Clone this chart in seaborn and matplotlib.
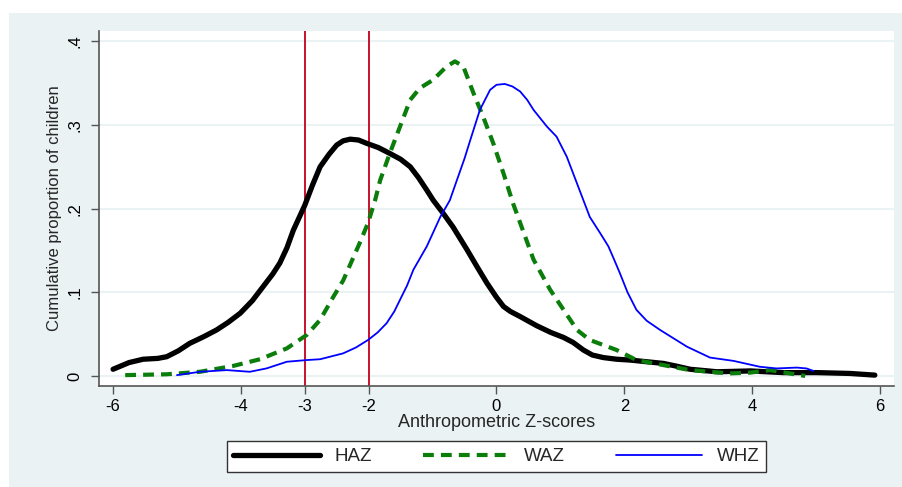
import numpy as np
import pandas as pd
import seaborn as sns
import matplotlib.pyplot as plt
from matplotlib.patches import Rectangle

# kernel density curves
haz_x = [-6.0, -5.75, -5.53, -5.30, -5.16, -4.98, -4.80, -4.58, -4.38, -4.20, -4.01,
         -3.82, -3.65, -3.50, -3.39, -3.28, -3.18, -3.0, -2.88, -2.76, -2.62, -2.50,
         -2.40, -2.29, -2.16, -2.03, -1.85, -1.67, -1.50, -1.35, -1.22, -1.09, -0.99,
         -0.84, -0.68, -0.47, -0.30, -0.15, 0.0, 0.11, 0.22, 0.37, 0.63, 0.85, 1.05,
         1.20, 1.36, 1.50, 1.67, 1.88, 2.09, 2.35, 2.61, 2.80, 3.03, 3.45, 3.97, 4.49,
         5.01, 5.53, 5.92]
haz_y = [0.008, 0.016, 0.020, 0.021, 0.023, 0.030, 0.039, 0.047, 0.055, 0.064, 0.075,
         0.090, 0.107, 0.122, 0.135, 0.153, 0.174, 0.204, 0.228, 0.250, 0.265, 0.276,
         0.281, 0.283, 0.282, 0.278, 0.273, 0.266, 0.259, 0.250, 0.237, 0.222, 0.210,
         0.195, 0.178, 0.152, 0.130, 0.111, 0.094, 0.083, 0.077, 0.071, 0.060, 0.052,
         0.046, 0.040, 0.031, 0.025, 0.022, 0.020, 0.019, 0.017, 0.015, 0.012, 0.008,
         0.005, 0.006, 0.004, 0.004, 0.003, 0.001]

waz_x = [-5.81, -5.16, -4.64, -4.12, -3.70, -3.28, -2.97, -2.76, -2.55, -2.40, -2.29,
         -2.14, -2.01, -1.90, -1.82, -1.67, -1.51, -1.35, -1.20, -0.99, -0.78, -0.65,
         -0.52, -0.36, -0.21, -0.05, 0.11, 0.26, 0.37, 0.58, 0.84, 1.05, 1.26, 1.46,
         1.67, 1.88, 2.19, 2.61, 3.03, 3.65, 3.97, 4.28, 4.59, 4.83]
waz_y = [0.001, 0.002, 0.005, 0.012, 0.020, 0.033, 0.049, 0.067, 0.095, 0.114, 0.133,
         0.159, 0.183, 0.210, 0.234, 0.266, 0.298, 0.330, 0.344, 0.354, 0.370, 0.376,
         0.370, 0.338, 0.310, 0.278, 0.242, 0.206, 0.183, 0.139, 0.103, 0.079, 0.055,
         0.043, 0.037, 0.031, 0.019, 0.013, 0.007, 0.003, 0.004, 0.007, 0.003, 0.000]

whz_x = [-5.0, -4.64, -4.22, -3.86, -3.60, -3.28, -2.97, -2.76, -2.40, -2.20, -2.01,
         -1.86, -1.72, -1.60, -1.51, -1.40, -1.30, -1.09, -0.88, -0.73, -0.62, -0.50,
         -0.41, -0.26, -0.10, 0.0, 0.13, 0.25, 0.37, 0.48, 0.58, 0.79, 0.94, 1.10, 1.26,
         1.46, 1.62, 1.75, 1.83, 1.93, 2.05, 2.19, 2.35, 2.56, 2.98, 3.34, 3.71, 4.12,
         4.38, 4.70, 4.85, 4.96]
whz_y = [0.001, 0.005, 0.007, 0.005, 0.009, 0.017, 0.019, 0.020, 0.027, 0.034, 0.043,
         0.052, 0.063, 0.077, 0.091, 0.108, 0.127, 0.155, 0.190, 0.210, 0.234, 0.260,
         0.282, 0.318, 0.342, 0.348, 0.349, 0.346, 0.340, 0.330, 0.318, 0.298, 0.286,
         0.262, 0.230, 0.190, 0.171, 0.155, 0.141, 0.123, 0.100, 0.079, 0.066, 0.055,
         0.035, 0.022, 0.018, 0.011, 0.009, 0.010, 0.009, 0.006]

cutoffs = [-3, -2]
x_ticks = [-6, -4, -3, -2, 0, 2, 4, 6]
y_ticks = [0, 0.1, 0.2, 0.3, 0.4]
y_labels = ["0", ".1", ".2", ".3", ".4"]

sns.set_theme(style="white")
plt.rcParams['font.family'] = ['Liberation Sans', 'DejaVu Sans']
plt.rcParams['axes.unicode_minus'] = False

bg = "#EAF2F3"
fig = plt.figure(figsize=(9.03, 4.87), dpi=100)
fig.patches.append(Rectangle((9 / 903, 0), 1, (487 - 13) / 487, transform=fig.transFigure,
                             facecolor=bg, edgecolor="none", zorder=-10))
ax = fig.add_axes([99 / 903, 101 / 487, 795 / 903, 355 / 487])
ax.set_facecolor("white")

for yt in y_ticks:
    ax.axhline(yt, color=bg, lw=1.5, zorder=0)
for c in cutoffs:
    ax.axvline(c, color="#C8102E", lw=1.4, zorder=1)

sns.lineplot(x=haz_x, y=haz_y, ax=ax, color="black", lw=3.8, sort=False,
             estimator=None, label="HAZ", zorder=3, solid_joinstyle="round")
sns.lineplot(x=waz_x, y=waz_y, ax=ax, color="#0B7D0B", lw=3.0, sort=False,
             estimator=None, label="WAZ", zorder=4, linestyle=(0, (2.6, 1.7)))
sns.lineplot(x=whz_x, y=whz_y, ax=ax, color="#0000FF", lw=1.3, sort=False,
             estimator=None, label="WHZ", zorder=5, solid_joinstyle="round")

ax.set_xlim(-6.22, 6.22)
ax.set_ylim(-0.012, 0.4123)
ax.set_xticks(x_ticks)
ax.set_yticks(y_ticks)
ax.set_yticklabels(y_labels, rotation=90, va="center")
ax.tick_params(axis="both", direction="out", length=6, width=1, color="#555555",
               labelsize=12, labelcolor="black", bottom=True, left=True)
ax.tick_params(axis="y", pad=6)

for side in ["top", "right"]:
    ax.spines[side].set_visible(False)
for side in ["left", "bottom"]:
    ax.spines[side].set_color("#555555")
    ax.spines[side].set_linewidth(1.2)

ax.set_xlabel("Anthropometric Z-scores", fontsize=13, labelpad=0)
ax.set_ylabel("Cumulative proportion of children", fontsize=12, labelpad=4)

ax.get_legend().remove()
handles, labels = ax.get_legend_handles_labels()
leg = fig.legend(handles, labels, loc="center", bbox_to_anchor=(496.5 / 903, 30.5 / 487),
                 ncol=3, fontsize=13.5, handlelength=4.6, handletextpad=0.8,
                 columnspacing=2.7, frameon=True, fancybox=False, framealpha=1,
                 edgecolor="#333333", borderpad=0.35, borderaxespad=0)
leg.get_frame().set_linewidth(1.0)

fig.savefig("out.png", dpi=100)
